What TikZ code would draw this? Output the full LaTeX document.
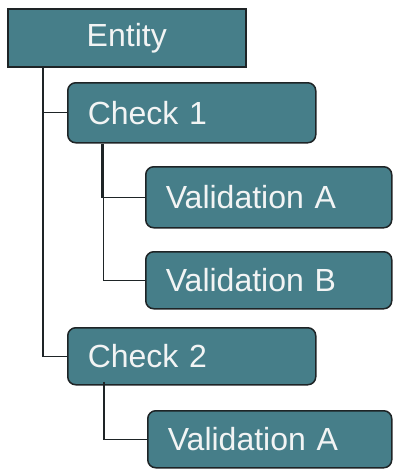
\documentclass[tikz,border=0pt]{standalone}
\usepackage{fontspec}
\setmainfont{Liberation Sans}
\usetikzlibrary{positioning}
\definecolor{boxfill}{HTML}{467E89}
\definecolor{boxline}{HTML}{1E2426}
\definecolor{boxtext}{HTML}{F2F4F4}
\tikzset{
  base/.style={draw=boxline, line width=1.5pt, fill=boxfill, text=boxtext,
    anchor=north west, font=\fontsize{32}{38}\selectfont, inner ysep=0pt},
  rootbox/.style={base, minimum width=#1, text width=#1, align=center, inner xsep=0pt},
  itembox/.style={base, rounded corners=8pt, minimum width=#1,
    text width={#1-40pt}, align=left, inner xsep=20pt},
  link/.style={draw=boxline, line width=1.3pt},
}
\begin{document}
\begin{tikzpicture}[x=1pt, y=-1pt]
  \useasboundingbox (0,0) rectangle (393,469);
  % tree boxes
  \node[rootbox=238pt, minimum height=58pt] (entity) at (7,8) {Entity};
  \node[itembox=248pt, minimum height=60pt] (check1) at (67,82) {Check 1};
  \node[itembox=246pt, minimum height=61pt] (valA) at (145,166) {Validation A};
  \node[itembox=246pt, minimum height=57pt] (valB) at (145,251) {Validation B};
  \node[itembox=248pt, minimum height=57pt] (check2) at (67,327) {Check 2};
  \node[itembox=244pt, minimum height=57pt] (valC) at (147,410) {Validation A};
  % elbow connectors
  \draw[link] ([xshift=36pt]entity.south west) |- (check1.west);
  \draw[link] ([xshift=36pt]entity.south west) |- (check2.west);
  \draw[link] ([xshift=35pt]check1.south west) |- (valA.west);
  \draw[link] ([xshift=36.5pt]check1.south west) |- (valB.west);
  \draw[link] ([xshift=37pt,yshift=4pt]check2.south west) |- (valC.west);
\end{tikzpicture}
\end{document}
